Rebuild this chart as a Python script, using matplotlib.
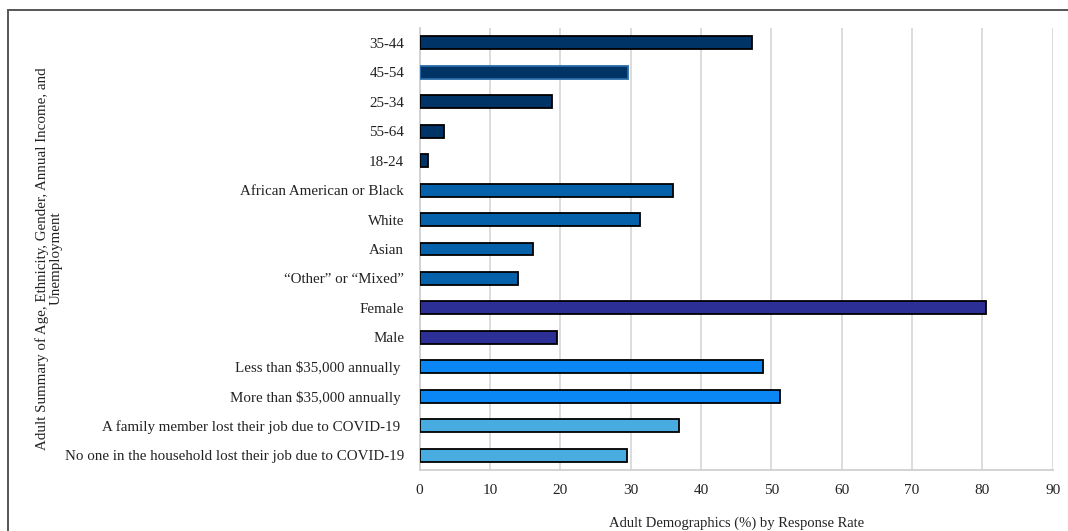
import matplotlib
matplotlib.use("Agg")
import matplotlib.pyplot as plt
from matplotlib.patches import Rectangle

# survey groups, listed top to bottom
categories = [
    "35-44", "45-54", "25-34", "55-64", "18-24",
    "African American or Black", "White", "Asian", "\u201cOther\u201d or \u201cMixed\u201d",
    "Female", "Male",
    "Less than $35,000 annually ", "More than $35,000 annually ",
    "A family member lost their job due to COVID-19 ",
    "No one in the household lost their job due to COVID-19",
]
values = [47.3, 29.6, 18.8, 3.5, 1.2,
          36.0, 31.4, 16.2, 14.0,
          80.5, 19.5,
          48.8, 51.2,
          36.9, 29.5]
groups = ["age"] * 5 + ["eth"] * 4 + ["gender"] * 2 + ["income"] * 2 + ["job"] * 2
group_colors = {
    "age": "#003366",
    "eth": "#0562AA",
    "gender": "#2C2F95",
    "income": "#0B86F5",
    "job": "#48ACE1",
}
xticks = list(range(0, 100, 10))

plt.rcParams["font.family"] = ["Liberation Serif", "DejaVu Serif"]

fig = plt.figure(figsize=(10.68, 5.31), dpi=100)
ax = fig.add_axes([0.3928, 0.1149, 0.5929, 0.8324])

ypos = list(range(len(categories)))
colors = [group_colors[g] for g in groups]
edges = ["black"] * len(categories)
edges[1] = "#2A6BA8"
ax.barh(ypos, values, height=0.44, color=colors, edgecolor=edges, linewidth=1.3, zorder=3)

ax.set_ylim(len(categories) - 0.5, -0.5)
ax.set_xlim(0, 90)
ax.set_xticks(xticks)
ax.set_yticks(ypos)
ax.set_yticklabels([c.replace("$", r"\$") for c in categories], fontsize=10.8)
ax.tick_params(axis="both", length=0, colors="#222222")
ax.tick_params(axis="x", labelsize=11, pad=10)
ax.tick_params(axis="y", pad=11)

ax.grid(axis="x", color="#d9d9d9", linewidth=1.3, zorder=0)
for side in ["top", "right"]:
    ax.spines[side].set_visible(False)
for side in ["left", "bottom"]:
    ax.spines[side].set_color("#d0d0d0")
    ax.spines[side].set_linewidth(1.3)

ax.set_xlabel("Adult Demographics (%) by Response Rate", fontsize=10.5, labelpad=14, color="#222222")
fig.text(0.046, 0.513,
         "Adult Summary of Age, Ethnicity, Gender, Annual Income, and\nUnemployment",
         rotation=90, ha="center", va="center", multialignment="center",
         fontsize=10.8, color="#222222", linespacing=1.1)

# outer frame around the figure
fig.patches.append(Rectangle((8 / 1068, -0.05), 1.2, 1 - 10 / 531 + 0.05,
                             transform=fig.transFigure, fill=False,
                             edgecolor="#555555", linewidth=1.4))

fig.savefig("out.png", dpi=100)
